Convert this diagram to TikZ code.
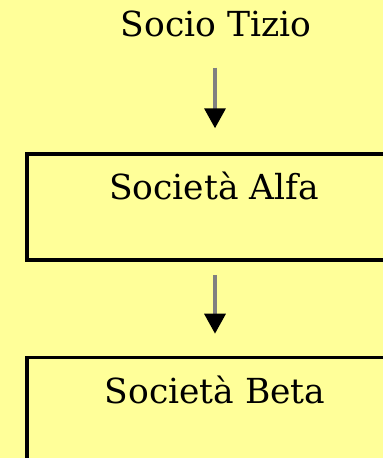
\documentclass[tikz,border=0pt]{standalone}
\usepackage{fontspec}
\setmainfont{DejaVu Serif}
\usetikzlibrary{arrows.meta}
\definecolor{bgyellow}{HTML}{FFFF99}
\definecolor{shaftgray}{HTML}{808080}
\tikzset{
  lbl/.style={anchor=base, inner sep=0pt, font=\fontsize{34.5}{38}\selectfont},
  box/.style={draw=black, line width=3.5pt, rectangle, inner sep=0pt, anchor=north west},
  flow/.style={draw=shaftgray, line width=3.5pt, -{Triangle[length=20pt,width=21pt,black]}}
}
\begin{document}
\begin{tikzpicture}[x=1pt,y=-1pt]
  \fill[bgyellow] (0,0) rectangle (383,458);
  \useasboundingbox (0,0) rectangle (383,458);
  \begin{scope}
    \clip (0,0) rectangle (383,458);
    \node[box, minimum width=400pt, minimum height=106pt] (alfa) at (25,152.3) {};
    \node[box, minimum width=400pt, minimum height=150pt] (beta) at (25,355.7) {};
  \end{scope}
  \node[lbl] (tizio) at (216,36) {Socio Tizio};
  \node[lbl] (alfatext) at (214,199) {Società Alfa};
  \node[lbl] (betatext) at (215,403) {Società Beta};
  \draw[flow, shorten <=31pt, shorten >=24pt] (tizio.south -| 215,0) -- (alfa.north -| 215,0);
  \draw[flow, shorten <=13pt, shorten >=22pt] (alfa.south -| 215,0) -- (beta.north -| 215,0);
\end{tikzpicture}
\end{document}
